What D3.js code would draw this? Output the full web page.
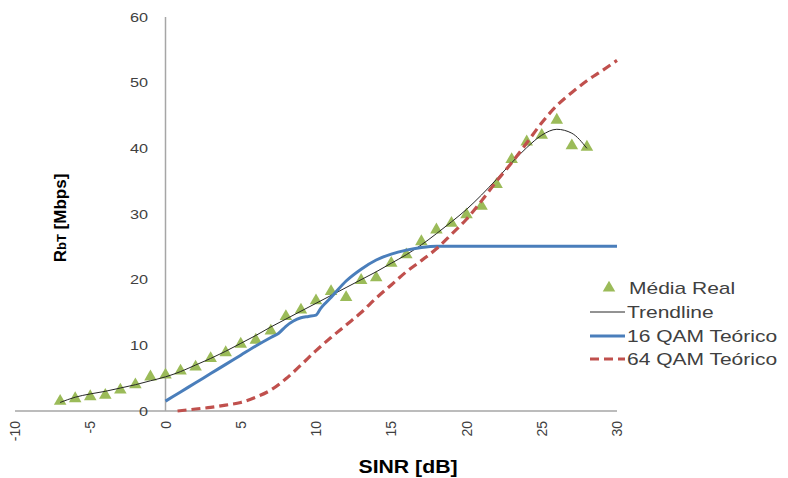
<!DOCTYPE html>
<html><head><meta charset="utf-8">
<script src="https://cdn.jsdelivr.net/npm/d3@7"></script>
<style>
html,body{margin:0;padding:0;background:#fff;}
svg{display:block;font-family:"Liberation Sans",Arial,sans-serif;}
</style></head>
<body><svg id="c" width="788" height="478"></svg>
<script>
// ---- data ----
const realX = [-7,-6,-5,-4,-3,-2,-1,0,1,2,3,4,5,6,7,8,9,10,11,12,13,14,15,16,17,18,19,20,21,22,23,24,25,26,27,28];
const realY = [1.5,1.9,2.2,2.4,3.2,4.0,5.2,5.5,6.1,6.7,8.0,8.9,10.2,10.8,12.2,14.4,15.4,16.8,18.2,17.3,19.9,20.3,22.5,23.8,25.8,27.6,28.6,29.9,31.2,34.5,38.3,41.0,42.0,44.3,40.4,40.2];

const trendX = [-7,-6,-5,-4,-3,-2,-1,0,1,2,3,4,5,6,7,8,9,10,11,12,13,14,15,16,17,18,19,20,21,22,23,24,25,26,27,28];
const trendY = [1.3,2.1,2.6,3.0,3.5,4.0,4.6,5.2,6.0,7.0,8.0,9.1,10.3,11.5,12.8,14.0,15.2,16.4,17.6,18.8,20.0,21.2,22.5,23.8,25.3,27.0,28.8,30.7,32.9,35.3,37.8,40.1,42.0,42.9,42.3,40.0];

const qam16X = [0,1,2,3,4,5,6,7,7.5,8,8.5,9,9.5,10,10.3,10.7,11,12,13,14,15,16,17,18,30];
const qam16Y = [1.5,2.9,4.3,5.7,7.1,8.5,9.9,11.2,11.8,12.9,13.7,14.2,14.4,14.6,15.6,16.6,17.3,19.8,21.6,23.0,23.9,24.5,24.9,25.1,25.1];

const qam64X = [0.8,2,3,4,5,6,7,8,9,10,11,12,13,14,15,16,17,18,19,20,21,22,23,24,25,26,27,28,29,30];
const qam64Y = [0,0.3,0.55,0.9,1.3,2.1,3.2,4.9,7.0,9.2,11.2,13.1,15.0,17.2,19.2,21.2,22.9,24.7,26.9,29.2,32.0,35.0,37.8,40.8,43.9,46.5,48.5,50.3,51.8,53.4];

const xTicks = [-10,-5,0,5,10,15,20,25,30];
const yTicks = [0,10,20,30,40,50,60];
const legendLabels = ["Média Real","Trendline","16 QAM Teórico","64 QAM Teórico"];

// ---- drawing ----
const svg = d3.select("#c");
const x = d3.scaleLinear().domain([-10,30]).range([15,617]);
const y = d3.scaleLinear().domain([0,60]).range([411,17]);
const SX = 1.25; // horizontal text stretch of the original

// axis lines
const gAxis = svg.append("g");
gAxis.append("line").attr("x1",x(-10)).attr("x2",x(30)).attr("y1",y(0)).attr("y2",y(0))
  .attr("stroke","#a6a6a6").attr("stroke-width",1.5);
gAxis.append("line").attr("x1",x(0)).attr("x2",x(0)).attr("y1",y(60)).attr("y2",y(0))
  .attr("stroke","#a6a6a6").attr("stroke-width",1.5);

// y tick labels
svg.append("g").selectAll("text").data(yTicks).join("text")
  .attr("transform",d=>`translate(148,${y(d)}) scale(${SX},1)`)
  .attr("text-anchor","end").attr("dy","0.36em")
  .attr("font-size",13).attr("fill","#404040").text(d=>d);

// x tick labels rotated
svg.append("g").selectAll("text").data(xTicks).join("text")
  .attr("transform",d=>`translate(${x(d)},421) rotate(-90)`)
  .attr("text-anchor","end").attr("dy","0.36em")
  .attr("font-size",14).attr("fill","#404040").text(d=>d);

// titles
svg.append("text").attr("transform",`translate(408,473) scale(1.18,1)`)
  .attr("text-anchor","middle")
  .attr("font-size",18).attr("font-weight","bold").attr("fill","#000").text("SINR [dB]");
const yt = svg.append("text").attr("transform","translate(66,218) rotate(-90)")
  .attr("text-anchor","middle").attr("font-size",17).attr("font-weight","bold").attr("fill","#000");
yt.append("tspan").text("R");
yt.append("tspan").attr("font-size",13).text("bT");
yt.append("tspan").text(" [Mbps]");

const curve = d3.curveMonotoneX;
const line = d3.line().x(d=>x(d[0])).y(d=>y(d[1])).curve(curve);

// triangles
const tri = d3.symbol().type(d3.symbolTriangle).size(68);
svg.append("g").selectAll("path").data(realX.map((v,i)=>[v,realY[i]])).join("path")
  .attr("d",tri).attr("transform",d=>`translate(${x(d[0])},${y(d[1])})`)
  .attr("fill","#9bbb59");

// trendline
svg.append("path").datum(trendX.map((v,i)=>[v,trendY[i]])).attr("d",line)
  .attr("fill","none").attr("stroke","#262626").attr("stroke-width",1);

// 16 QAM
svg.append("path").datum(qam16X.map((v,i)=>[v,qam16Y[i]])).attr("d",line)
  .attr("fill","none").attr("stroke","#4a7ebb").attr("stroke-width",3);

// 64 QAM
svg.append("path").datum(qam64X.map((v,i)=>[v,qam64Y[i]])).attr("d",line)
  .attr("fill","none").attr("stroke","#c0504d").attr("stroke-width",3.2)
  .attr("stroke-dasharray","9,5");

// legend
const lg = svg.append("g");
const ly = [288,312,336,359];
lg.append("path").attr("d",tri).attr("transform",`translate(609,${ly[0]})`).attr("fill","#9bbb59");
lg.append("line").attr("x1",590).attr("x2",625).attr("y1",ly[1]).attr("y2",ly[1]).attr("stroke","#262626").attr("stroke-width",1);
lg.append("line").attr("x1",590).attr("x2",625).attr("y1",ly[2]).attr("y2",ly[2]).attr("stroke","#4a7ebb").attr("stroke-width",3);
lg.append("line").attr("x1",590).attr("x2",625).attr("y1",ly[3]).attr("y2",ly[3]).attr("stroke","#c0504d").attr("stroke-width",3.2).attr("stroke-dasharray","9,5");
lg.selectAll("text").data(legendLabels).join("text")
  .attr("transform",(d,i)=>`translate(${i===0?629:627},${ly[i]}) scale(${SX},1)`)
  .attr("dy","0.36em").attr("font-size",16.8).attr("fill","#404040").text(d=>d);
</script>
</body></html>
